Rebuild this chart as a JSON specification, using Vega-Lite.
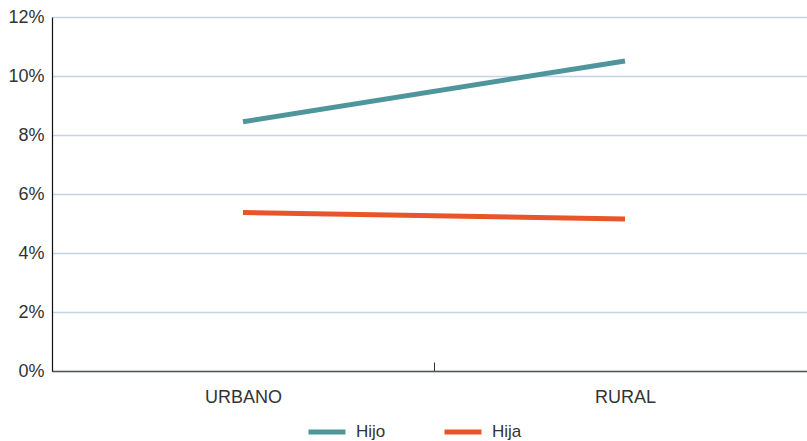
{
  "$schema": "https://vega.github.io/schema/vega-lite/v6.json",
  "width": 755,
  "height": 354,
  "autosize": "none",
  "padding": {"left": 52, "top": 17, "right": 0, "bottom": 70},
  "background": "white",
  "config": {
    "view": {"stroke": null},
    "font": "Liberation Sans"
  },
  "data": {
    "values": [
      {"zona": "URBANO", "serie": "Hijo", "valor": 0.0845},
      {"zona": "RURAL", "serie": "Hijo", "valor": 0.1051},
      {"zona": "URBANO", "serie": "Hija", "valor": 0.0537},
      {"zona": "RURAL", "serie": "Hija", "valor": 0.0515}
    ]
  },
  "mark": {"type": "line", "strokeWidth": 5, "strokeCap": "butt"},
  "encoding": {
    "x": {
      "field": "zona",
      "type": "nominal",
      "sort": ["URBANO", "RURAL"],
      "bandPosition": 0.5,
      "scale": {"type": "band", "range": [0, 764], "paddingInner": 0, "paddingOuter": 0},
      "axis": {
        "title": null,
        "labelAngle": 0,
        "labelFontSize": 18,
        "labelColor": "#333333",
        "labelPadding": 26,
        "tickBand": "extent",
        "tickSize": -9,
        "tickColor": "#333333",
        "domainColor": "#555555",
        "domainWidth": 1.5,
        "grid": false
      }
    },
    "y": {
      "field": "valor",
      "type": "quantitative",
      "scale": {"domain": [0, 0.12], "nice": false},
      "axis": {
        "title": null,
        "format": ".0%",
        "values": [0, 0.02, 0.04, 0.06, 0.08, 0.1, 0.12],
        "labelFontSize": 18,
        "labelColor": "#333333",
        "labelPadding": 8,
        "ticks": false,
        "domainColor": "#111111",
        "domainWidth": 1.2,
        "gridColor": "#c3d4e4",
        "gridWidth": 1.3,
        "gridOpacity": 1
      }
    },
    "color": {
      "field": "serie",
      "type": "nominal",
      "scale": {"domain": ["Hijo", "Hija"], "range": ["#4e969b", "#e8552a"]},
      "legend": {
        "title": null,
        "orient": "none",
        "legendX": 254,
        "legendY": 394,
        "direction": "horizontal",
        "symbolType": "stroke",
        "symbolSize": 1369,
        "symbolStrokeWidth": 5,
        "labelFontSize": 17,
        "labelColor": "#333333",
        "labelOffset": 8,
        "columnPadding": 48
      }
    }
  }
}
